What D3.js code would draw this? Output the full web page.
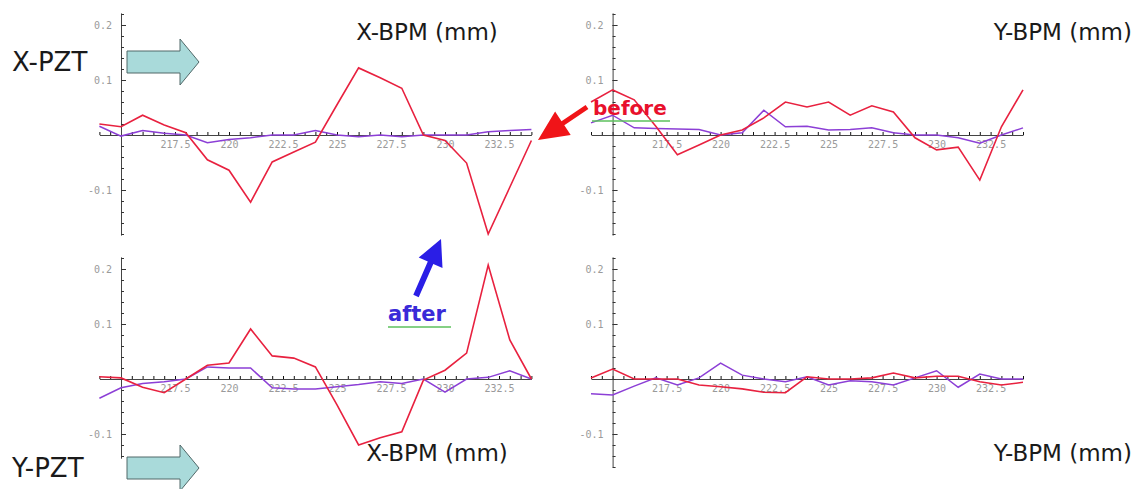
<!DOCTYPE html>
<html>
<head>
<meta charset="utf-8">
<script src="https://cdn.jsdelivr.net/npm/d3@7"></script>
<style>
  body { margin: 0; background: #fff; }
  svg { display: block; }
  .tick text { font-family: "DejaVu Sans Mono", monospace; font-size: 10px; fill: #9a9a9a; }
  .label { font-family: "DejaVu Sans", sans-serif; fill: #1a1a1a; }
</style>
</head>
<body>
<div id="chart"></div>
<script>
// BPM positions along the beam line (x axis of every panel)
var bpmPos = [214, 215, 216, 217, 218, 219, 220, 221, 222, 223, 224, 225, 226, 227, 228, 229, 230, 231, 232, 233, 234];
var xTicks = [217.5, 220, 222.5, 225, 227.5, 230, 232.5];
var yTicks = [-0.1, 0.1, 0.2];

// X-PZT kick, X-BPM response
var xxRed    = [0.02, 0.015, 0.036, 0.018, 0.004, -0.045, -0.064, -0.122, -0.049, -0.031, -0.013, 0.055, 0.122, 0.104, 0.085, 0.0, -0.01, -0.051, -0.18, -0.095, -0.01];
var xxPurple = [0.016, -0.002, 0.008, 0.003, 0.0, -0.014, -0.008, -0.005, 0.0, 0.0, 0.008, 0.0, -0.003, 0.0, -0.003, 0.0, 0.0, 0.0, 0.006, 0.008, 0.01];
// X-PZT kick, Y-BPM response
var xyRed    = [0.06, 0.082, 0.064, 0.016, -0.036, -0.018, 0.0, 0.009, 0.031, 0.06, 0.051, 0.06, 0.036, 0.053, 0.042, -0.005, -0.027, -0.022, -0.082, 0.015, 0.082];
var xyPurple = [0.022, 0.036, 0.013, 0.012, 0.011, 0.01, 0.0, 0.004, 0.045, 0.015, 0.016, 0.009, 0.01, 0.013, 0.004, 0.0, 0.0, -0.005, -0.015, 0.0, 0.013];
// Y-PZT kick, X-BPM response
var yxRed    = [0.004, 0.002, -0.015, -0.025, 0.0, 0.025, 0.029, 0.091, 0.042, 0.038, 0.022, -0.047, -0.12, -0.107, -0.096, -0.002, 0.016, 0.047, 0.207, 0.071, 0.0];
var yxPurple = [-0.035, -0.016, -0.008, -0.005, 0.0, 0.022, 0.02, 0.02, -0.016, -0.018, -0.018, -0.014, -0.01, -0.005, -0.008, 0.0, -0.024, 0.0, 0.003, 0.015, 0.0];
// Y-PZT kick, Y-BPM response
var yyRed    = [0.002, 0.018, 0.0, 0.0, 0.0, -0.011, -0.014, -0.018, -0.024, -0.025, 0.004, 0.0, 0.0, 0.002, 0.011, 0.002, 0.005, 0.005, -0.005, -0.011, -0.006];
var yyPurple = [-0.027, -0.029, -0.013, 0.002, -0.011, 0.002, 0.029, 0.007, 0.0, -0.005, 0.004, -0.011, -0.003, -0.005, -0.011, 0.002, 0.015, -0.015, 0.009, 0.0, 0.0];

var W = 1136, H = 489;
var pxPerUnit = 21.6;   // px per mm of BPM position
var pxPerTenth = 55;    // px per 0.1 mm

var panels = [
    { left: 99.4, zero: 135, yLo: -0.182, yHi: 0.222, red: xxRed, purple: xxPurple },
    { left: 591, zero: 135, yLo: -0.182, yHi: 0.222, red: xyRed, purple: xyPurple },
    { left: 99.4, zero: 379, yLo: -0.144, yHi: 0.222, red: yxRed, purple: yxPurple },
    { left: 591, zero: 379, yLo: -0.16, yHi: 0.222, red: yyRed, purple: yyPurple }
];

var svg = d3.select("#chart").append("svg")
    .attr("width", W)
    .attr("height", H);

function drawPanel(p) {
    var x = d3.scaleLinear()
        .domain([214, 234])
        .range([p.left, p.left + 20 * pxPerUnit]);
    var y = d3.scaleLinear()
        .domain([0, 0.1])
        .range([p.zero, p.zero - pxPerTenth]);
    var g = svg.append("g");

    // x axis along zero
    var minorX = d3.range(214, 234.01, 0.5);
    g.append("g")
        .attr("transform", "translate(0," + y(0) + ")")
        .call(d3.axisBottom(x).tickValues(minorX).tickFormat("").tickSizeInner(-3).tickSizeOuter(0))
        .call(function(s) { s.select(".domain").attr("stroke", "#444"); s.selectAll(".tick line").attr("stroke", "#111"); });
    g.append("g")
        .attr("transform", "translate(0," + y(0) + ")")
        .call(d3.axisBottom(x).tickValues(xTicks).tickFormat(function(d) { return String(d); })
            .tickSizeInner(0).tickSizeOuter(0).tickPadding(6))
        .call(function(s) { s.select(".domain").remove(); });

    // y axis at 215
    var yAx = y.copy().domain([p.yLo, p.yHi]).range([y(p.yLo), y(p.yHi)]);
    var minorY = d3.range(-0.18, 0.221, 0.02).filter(function(v) { return v >= p.yLo && v <= p.yHi; });
    g.append("g")
        .attr("transform", "translate(" + x(215) + ",0)")
        .call(d3.axisLeft(yAx).tickValues(minorY).tickFormat("").tickSizeInner(-3).tickSizeOuter(0))
        .call(function(s) { s.select(".domain").attr("stroke", "#444"); s.selectAll(".tick line").attr("stroke", "#333"); });
    g.append("g")
        .attr("transform", "translate(" + x(215) + ",0)")
        .call(d3.axisLeft(yAx).tickValues(yTicks).tickFormat(function(d) { return d3.format(".1f")(d).replace("−", "-"); })
            .tickSizeInner(-5).tickSizeOuter(0).tickPadding(9))
        .call(function(s) { s.select(".domain").remove(); s.selectAll(".tick line").attr("stroke", "#333"); });

    var line = d3.line()
        .x(function(d, i) { return x(bpmPos[i]); })
        .y(function(d) { return y(d); });

    g.append("path")
        .datum(p.purple)
        .attr("fill", "none")
        .attr("stroke", "#8c3fd6")
        .attr("stroke-width", 1.5)
        .attr("d", line);
    g.append("path")
        .datum(p.red)
        .attr("fill", "none")
        .attr("stroke", "#e8213f")
        .attr("stroke-width", 1.6)
        .attr("d", line);
}

panels.forEach(drawPanel);

// block arrow polygon from tail to tip
function arrowPath(tx, ty, hx, hy, shaftHalf, headLen, headHalf) {
    var dx = hx - tx, dy = hy - ty, len = Math.sqrt(dx * dx + dy * dy);
    var ux = dx / len, uy = dy / len, nx = -uy, ny = ux;
    var bx = hx - ux * headLen, by = hy - uy * headLen;
    var pts = [
        [tx + nx * shaftHalf, ty + ny * shaftHalf],
        [bx + nx * shaftHalf, by + ny * shaftHalf],
        [bx + nx * headHalf, by + ny * headHalf],
        [hx, hy],
        [bx - nx * headHalf, by - ny * headHalf],
        [bx - nx * shaftHalf, by - ny * shaftHalf],
        [tx - nx * shaftHalf, ty - ny * shaftHalf]
    ];
    return "M" + pts.map(function(q) { return q[0].toFixed(1) + "," + q[1].toFixed(1); }).join("L") + "Z";
}

// teal PZT arrows
[62, 468].forEach(function(cy) {
    svg.append("path")
        .attr("d", arrowPath(127, cy, 199, cy, 11, 19, 23))
        .attr("fill", "#a9dada")
        .attr("stroke", "#506868")
        .attr("stroke-width", 1);
});

svg.append("text").attr("class", "label").attr("x", 12).attr("y", 71).attr("font-size", 26).text("X-PZT");
svg.append("text").attr("class", "label").attr("x", 12).attr("y", 477).attr("font-size", 26).text("Y-PZT");

svg.append("text").attr("class", "label").attr("x", 427).attr("y", 40).attr("text-anchor", "middle").attr("font-size", 23).text("X-BPM (mm)");
svg.append("text").attr("class", "label").attr("x", 1132).attr("y", 40).attr("text-anchor", "end").attr("font-size", 23).text("Y-BPM (mm)");
svg.append("text").attr("class", "label").attr("x", 437).attr("y", 461).attr("text-anchor", "middle").attr("font-size", 23).text("X-BPM (mm)");
svg.append("text").attr("class", "label").attr("x", 1132).attr("y", 461).attr("text-anchor", "end").attr("font-size", 23).text("Y-BPM (mm)");

// before / after annotations
svg.append("path")
    .attr("d", arrowPath(587, 107, 538, 140, 2.5, 30, 14))
    .attr("fill", "#f01418");
svg.append("line").attr("x1", 592).attr("x2", 670).attr("y1", 121).attr("y2", 121)
    .attr("stroke", "#5cc05c").attr("stroke-width", 1.5);
svg.append("text")
    .attr("x", 593).attr("y", 115)
    .attr("font-family", "DejaVu Sans, sans-serif").attr("font-weight", "bold").attr("font-size", 20)
    .attr("fill", "#e8102c")
    .text("before");

svg.append("path")
    .attr("d", arrowPath(416, 296, 441, 239, 3, 26, 13))
    .attr("fill", "#2a1ee6");
svg.append("line").attr("x1", 388).attr("x2", 451).attr("y1", 327).attr("y2", 327)
    .attr("stroke", "#5cc05c").attr("stroke-width", 1.5);
svg.append("text")
    .attr("x", 388).attr("y", 321)
    .attr("font-family", "DejaVu Sans, sans-serif").attr("font-weight", "bold").attr("font-size", 21)
    .attr("fill", "#3a2ad8")
    .text("after");
</script>
</body>
</html>
